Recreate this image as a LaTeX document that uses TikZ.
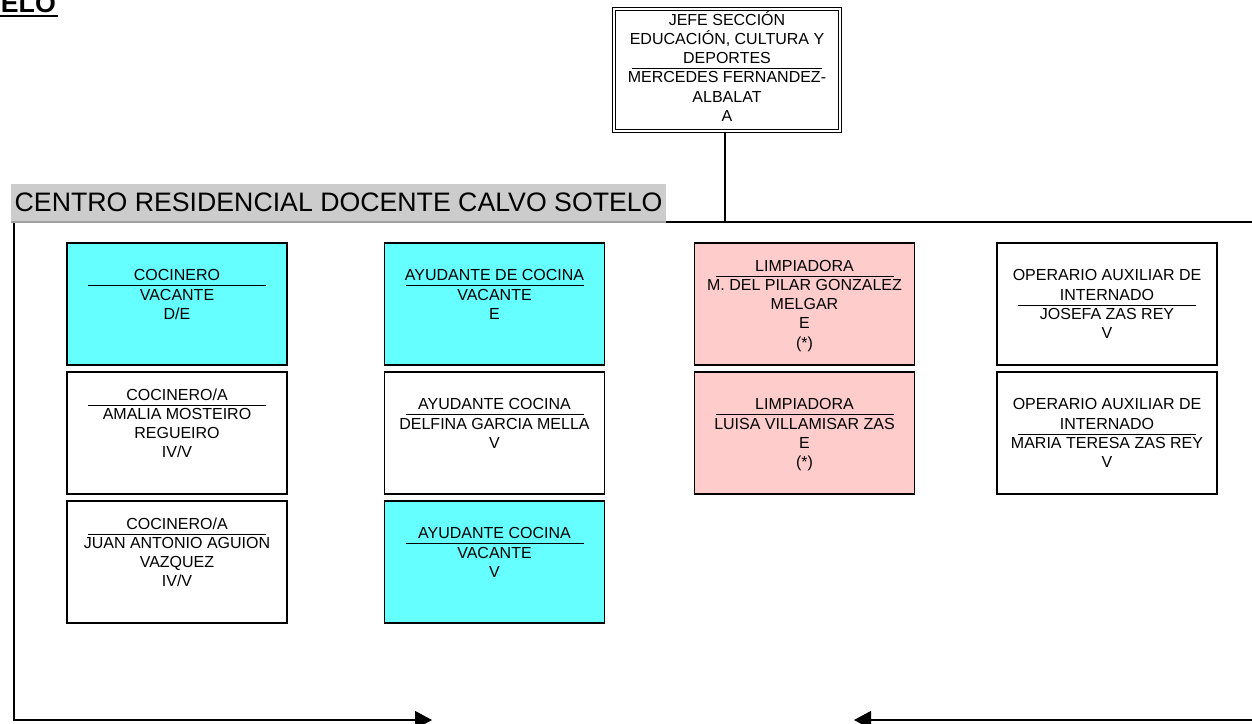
\documentclass[tikz,border=0pt]{standalone}
\usepackage{fontspec}
\setmainfont{Liberation Sans}
\usetikzlibrary{arrows.meta}
\definecolor{cyanfill}{HTML}{66FFFF}
\definecolor{pinkfill}{HTML}{FFCCCC}
\definecolor{barfill}{HTML}{CCCCCC}
\definecolor{baredge}{HTML}{A0A0A0}
\newcommand{\celltext}[1]{\parbox[t]{218pt}{\centering\fontsize{16pt}{19.2pt}\selectfont #1}}
\begin{document}
\begin{tikzpicture}[x=1pt,y=-1pt,
  cellbox/.style={draw=black, line width=1.3pt, minimum width=220pt, minimum height=122pt, inner sep=0pt},
  celltxt/.style={anchor=base, inner sep=0pt},
  sep/.style={line width=1.1pt},
  wire/.style={line width=1.4pt},
  tip/.style={-{Triangle[length=17pt,width=18pt]}}]
\clip (0,0) rectangle (1252,723);

% title fragment
\node[anchor=base east, inner sep=0pt, font=\fontsize{26.7pt}{30pt}\selectfont\bfseries] (ttl) at (56,12.5) {ELO};
\draw[line width=2.2pt] (0,15.8) -- (58,15.8);

% top box
\node[draw=black, line width=1.1pt, double=white, double distance=1.8pt,
      minimum width=226pt, minimum height=122pt, inner sep=0pt] (jefe) at (727,70) {};
\node[celltxt] (jefet) at (727,25.3) {\celltext{JEFE SECCIÓN\\EDUCACIÓN, CULTURA Y\\DEPORTES\\MERCEDES FERNANDEZ-\\ALBALAT\\A}};
\draw[sep] (632,68.7) -- (822,68.7);

% wires
\coordinate (bus) at (725,222);
\coordinate (busL) at (14,222);
\coordinate (busR) at (1252,222);
\coordinate (cornerL) at (14,720);
\coordinate (tipL) at (432,720);
\coordinate (edgeR) at (1252,720);
\coordinate (tipR) at (854,720);
\draw[wire] (jefe.south -| bus) -- (bus);
\draw[wire] (666,222) -- (busR);
\draw[wire, tip] (busL) -- (cornerL) -- (tipL);
\draw[wire, tip] (edgeR) -- (tipR);

% header bar
\fill[barfill] (11,184) rectangle (666,222);
\draw[baredge, line width=1.2pt] (11,222) -- (666,222);
\node[anchor=base west, inner sep=0pt, font=\fontsize{26.7pt}{30pt}\selectfont] (hdr) at (14.5,211.5) {CENTRO RESIDENCIAL DOCENTE CALVO SOTELO};

% column 1
\node[cellbox, fill=cyanfill] (b11) at (177,304) {};
\node[celltxt] (t11) at (177,280.9) {\celltext{COCINERO\\VACANTE\\D/E}};
\draw[sep] (88,285.9) -- (266,285.9);

\node[cellbox, fill=white] (b12) at (177,433) {};
\node[celltxt] (t12) at (177,400.3) {\celltext{COCINERO/A\\AMALIA MOSTEIRO\\REGUEIRO\\IV/V}};
\draw[sep] (88,405.3) -- (266,405.3);

\node[cellbox, fill=white] (b13) at (177,562) {};
\node[celltxt] (t13) at (177,529.3) {\celltext{COCINERO/A\\JUAN ANTONIO AGUION\\VAZQUEZ\\IV/V}};
\draw[sep] (88,534.3) -- (266,534.3);

% column 2
\node[cellbox, fill=cyanfill] (b21) at (494.5,304) {};
\node[celltxt] (t21) at (494.5,280.9) {\celltext{AYUDANTE DE COCINA\\VACANTE\\E}};
\draw[sep] (405.5,285.9) -- (583.5,285.9);

\node[cellbox, fill=white] (b22) at (494.5,433) {};
\node[celltxt] (t22) at (494.5,409.9) {\celltext{AYUDANTE COCINA\\DELFINA GARCIA MELLA\\V}};
\draw[sep] (405.5,414.9) -- (583.5,414.9);

\node[cellbox, fill=cyanfill] (b23) at (494.5,562) {};
\node[celltxt] (t23) at (494.5,538.9) {\celltext{AYUDANTE COCINA\\VACANTE\\V}};
\draw[sep] (405.5,543.9) -- (583.5,543.9);

% column 3
\node[cellbox, fill=pinkfill] (b31) at (804.5,304) {};
\node[celltxt] (t31) at (804.5,271.3) {\celltext{LIMPIADORA\\M. DEL PILAR GONZALEZ\\MELGAR\\E\\(*)}};
\draw[sep] (715.5,276.3) -- (893.5,276.3);

\node[cellbox, fill=pinkfill] (b32) at (804.5,433) {};
\node[celltxt] (t32) at (804.5,409.9) {\celltext{LIMPIADORA\\LUISA VILLAMISAR ZAS\\E\\(*)}};
\draw[sep] (715.5,414.9) -- (893.5,414.9);

% column 4
\node[cellbox, fill=white] (b41) at (1107,304) {};
\node[celltxt] (t41) at (1107,280.9) {\celltext{OPERARIO AUXILIAR DE\\INTERNADO\\JOSEFA ZAS REY\\V}};
\draw[sep] (1018,305.1) -- (1196,305.1);

\node[cellbox, fill=white] (b42) at (1107,433) {};
\node[celltxt] (t42) at (1107,409.9) {\celltext{OPERARIO AUXILIAR DE\\INTERNADO\\MARIA TERESA ZAS REY\\V}};
\draw[sep] (1018,434.1) -- (1196,434.1);
\end{tikzpicture}
\end{document}
